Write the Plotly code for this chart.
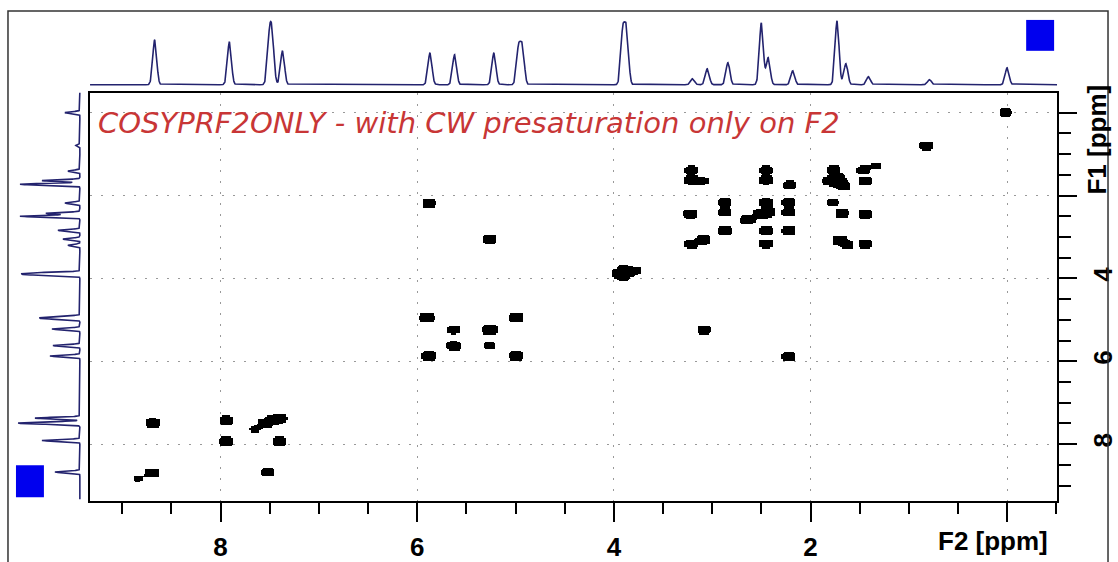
import numpy as np
import plotly.graph_objects as go

# ---------------- data ----------------
# 1D proton spectrum lines (ppm) with their heights in the F2 (top) and F1 (left) projections
proton_ppm = [8.67, 7.91, 7.505, 7.475, 7.37, 5.87, 5.62, 5.22, 4.97, 4.93,
              3.91, 3.87, 3.20, 3.05, 2.84, 2.50, 2.43, 2.18, 1.73, 1.64, 1.41, 0.79, 0.00]
top_height = [45, 43, 42, 42, 34, 32, 30, 32, 36, 36,
              52, 52, 6, 16, 22, 62, 27, 14, 64, 21, 8, 5, 17]
left_height = [25, 38, 41, 41, 45, 30, 27, 28, 33, 33,
               48, 48, 12, 17, 22, 60, 34, 15, 60, 38, 12, 4, 15]

# 2D COSY peaks: F2 (ppm), F1 (ppm), relative intensity
cosy_f2 = [8.69, 7.94, 7.94, 7.55, 7.47, 7.40, 7.65, 7.40, 8.70, 8.84, 7.52,
           5.90, 4.99, 5.63, 5.26, 5.63, 5.26, 5.88, 4.99, 5.88, 5.26, 3.08, 2.22,
           3.95, 3.85, 3.90, 3.90, 3.77,
           3.21, 2.45, 1.76, 1.46, 1.33,
           3.21, 3.09, 2.45, 2.21, 1.80, 1.70, 1.72, 1.66, 1.44,
           2.87, 2.45, 2.22, 1.77,
           3.22, 2.87, 2.50, 2.43, 2.62, 2.67, 2.22, 1.68, 1.44,
           2.87, 2.45, 2.22,
           3.21, 3.09, 2.45, 1.70, 1.63, 1.44,
           0.01, 0.82]
cosy_f1 = [7.49, 7.43, 7.94, 7.50, 7.43, 7.38, 7.64, 7.94, 8.70, 8.84, 8.68,
           4.95, 4.95, 5.24, 5.24, 5.63, 5.63, 5.87, 5.87, 2.19, 3.05, 5.24, 5.89,
           3.88, 3.86, 3.78, 3.96, 3.81,
           1.39, 1.39, 1.39, 1.39, 1.29,
           1.63, 1.65, 1.63, 1.75, 1.65, 1.70, 1.58, 1.78, 1.65,
           2.17, 2.17, 2.17, 2.17,
           2.45, 2.41, 2.45, 2.40, 2.57, 2.60, 2.41, 2.43, 2.45,
           2.85, 2.85, 2.85,
           3.17, 3.07, 3.17, 3.09, 3.19, 3.17,
           0.00, 0.80]
cosy_int = [3, 3, 3.5, 3, 4, 4, 1.3, 3.5, 3.5, 1.2, 2.5,
            4, 4, 2, 5, 3, 1.6, 3.5, 3.5, 2.5, 2.5, 2.5, 2.5,
            3, 3, 1.8, 1.8, 1.3,
            2.2, 2.2, 2.5, 2.2, 1.3,
            2.8, 1.6, 2.8, 2.2, 4, 4, 3, 2.5, 2.8,
            2.5, 2.5, 2.5, 1.6,
            2.5, 2.5, 5, 4, 2, 1.2, 2.5, 2.5, 2.5,
            3, 2.5, 2.5,
            2.5, 3, 2.5, 3, 2, 2.5,
            1.8, 2.5]

x_tick_vals = [8, 6, 4, 2, 0]
x_tick_text = ['8', '6', '4', '2', '']
y_tick_vals = [0, 2, 4, 6, 8]
y_tick_text = ['', '', '4', '6', '8']

F2_RANGE = [9.33, -0.508]
F1_RANGE = [9.375, -0.481]

# ---------------- derived curves ----------------
W, H = 1118, 562
def px(x):
    return x / W
def py(y):
    return 1 - y / H

sig = 0.02
ppm_axis = np.arange(-0.508, 9.33, 0.002)
top_trace = np.zeros_like(ppm_axis)
left_trace = np.zeros_like(ppm_axis)
for p, ht, hl in zip(proton_ppm, top_height, left_height):
    g = np.exp(-0.5 * ((ppm_axis - p) / sig) ** 2)
    top_trace += ht * g
    left_trace += hl * g

gx = np.arange(-0.5, 9.33, 0.0125)
gy = np.arange(-0.48, 9.375, 0.03)
GX, GY = np.meshgrid(gx, gy)
Z = np.zeros_like(GX)
sx, sy = 0.07, 0.11
for f2, f1, it in zip(cosy_f2, cosy_f1, cosy_int):
    Z += it * np.exp(-(np.abs(GX - f2) / sx) ** 4 - (np.abs(GY - f1) / sy) ** 4)
zlist = [[1 if v >= 1 else None for v in row] for row in Z]

fig = go.Figure()
fig.add_trace(go.Heatmap(x=gx, y=gy, z=zlist, zmin=0, zmax=1,
                         colorscale=[[0, 'black'], [1, 'black']], showscale=False,
                         zsmooth=False, hoverinfo='skip', xaxis='x', yaxis='y'))
line_col = '#23236e'
fig.add_trace(go.Scatter(x=ppm_axis, y=top_trace, mode='lines',
                         line=dict(color=line_col, width=1.6), hoverinfo='skip',
                         xaxis='x2', yaxis='y2', showlegend=False))
fig.add_trace(go.Scatter(x=left_trace, y=ppm_axis, mode='lines',
                         line=dict(color=line_col, width=1.6), hoverinfo='skip',
                         xaxis='x3', yaxis='y3', showlegend=False))

tick_font = dict(family='Liberation Sans, Arial', size=26, color='black', weight='bold')
main_dom_x = [px(90), px(1059)]
main_dom_y = [py(503), py(93)]

fig.update_layout(
    width=W, height=H, margin=dict(l=0, r=0, t=0, b=0),
    paper_bgcolor='white', plot_bgcolor='rgba(0,0,0,0)', showlegend=False,
    xaxis=dict(domain=main_dom_x, range=F2_RANGE, anchor='y',
               tickmode='array', tickvals=x_tick_vals, ticktext=x_tick_text,
               ticks='outside', ticklen=19, tickwidth=2, tickcolor='black',
               showline=True, linewidth=2, linecolor='black', mirror=True,
               showgrid=True, gridcolor='#999999', griddash='2px,9px', gridwidth=1,
               zeroline=False, tickfont=tick_font, ticklabelstandoff=3,
               minor=dict(tickmode='linear', tick0=0, dtick=0.5, ticks='outside',
                          ticklen=11, tickwidth=2, tickcolor='black', showgrid=False)),
    yaxis=dict(domain=main_dom_y, range=F1_RANGE, anchor='x', side='right',
               tickmode='array', tickvals=y_tick_vals, ticktext=y_tick_text,
               tickangle=-90,
               ticks='outside', ticklen=18, tickwidth=2, tickcolor='black',
               showline=True, linewidth=2, linecolor='black', mirror=True,
               showgrid=True, gridcolor='#999999', griddash='2px,9px', gridwidth=1,
               zeroline=False, tickfont=tick_font, ticklabelstandoff=4,
               minor=dict(tickmode='linear', tick0=0, dtick=0.5, ticks='outside',
                          ticklen=12, tickwidth=2, tickcolor='black', showgrid=False)),
    xaxis2=dict(domain=main_dom_x, matches='x', anchor='y2', visible=False),
    yaxis2=dict(domain=[py(93), py(12)], range=[-8, 73], anchor='x2', visible=False),
    xaxis3=dict(domain=[px(10), px(89)], range=[70, -9], anchor='y3', visible=False),
    yaxis3=dict(domain=main_dom_y, matches='y', anchor='x3', visible=False),
    shapes=[
        dict(type='rect', xref='paper', yref='paper', x0=px(8), x1=px(1110),
             y0=-0.05, y1=py(11), line=dict(color='#333333', width=1.5)),
        dict(type='rect', xref='paper', yref='paper', x0=px(1028), x1=px(1056),
             y0=py(51), y1=py(20), fillcolor='#0000ee', line=dict(width=0)),
        dict(type='rect', xref='paper', yref='paper', x0=px(16), x1=px(44),
             y0=py(499), y1=py(467), fillcolor='#0000ee', line=dict(width=0)),
    ],
    annotations=[
        dict(text='COSYPRF2ONLY - with CW presaturation only on F2', xref='paper', yref='paper',
             x=px(96), y=py(123), xanchor='left', yanchor='middle', showarrow=False,
             font=dict(family='DejaVu Sans', size=29, color='#c83636', style='italic')),
        dict(text='F2 [ppm]', xref='paper', yref='paper', x=px(995), y=py(543),
             xanchor='center', yanchor='middle', showarrow=False, font=tick_font),
        dict(text='F1 [ppm]', xref='paper', yref='paper', x=px(1098), y=py(140),
             xanchor='center', yanchor='middle', showarrow=False, textangle=-90,
             font=tick_font),
    ],
)

fig.write_html('out.html', config={'displayModeBar': False},
               post_script="document.body.style.margin='0';document.body.style.padding='0';"
                           "document.body.style.overflow='hidden';")
